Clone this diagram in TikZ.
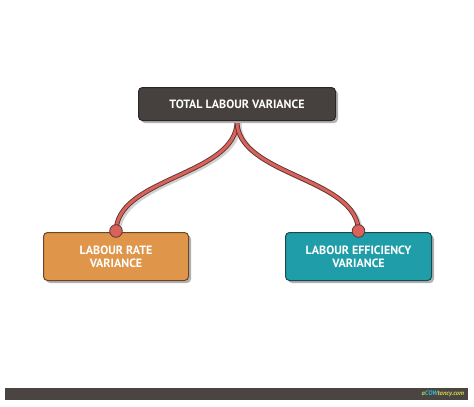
\documentclass[tikz,border=0pt]{standalone}
\usepackage{fontspec}
\setmainfont{PT Sans}
\usetikzlibrary{shadows,backgrounds}

\definecolor{TopDark}{HTML}{46413F}
\definecolor{TopEdge}{HTML}{2B2725}
\definecolor{RateOrange}{HTML}{E0964A}
\definecolor{RateEdge}{HTML}{6A4528}
\definecolor{EffTeal}{HTML}{1F9DA8}
\definecolor{EffEdge}{HTML}{1A4A4F}
\definecolor{PinRed}{HTML}{D9625B}
\definecolor{PinEdge}{HTML}{5C3431}
\definecolor{BarGray}{HTML}{4A4542}
\definecolor{LogoLime}{HTML}{D2D44A}
\definecolor{LogoCyan}{HTML}{3DB8C8}

\begin{document}
\begin{tikzpicture}[x=1pt,y=-1pt,line join=round]
   \useasboundingbox (0,0) rectangle (474,407);
   \tikzstyle{box}=[rounded corners=4pt, line width=1pt, text=white, align=center,
      font=\bfseries\fontsize{12}{13}\selectfont,
      drop shadow={shadow xshift=2.5pt, shadow yshift=-2.5pt, fill=black!30, opacity=1}]
   \node[box, fill=TopDark, draw=TopEdge, minimum width=197pt, minimum height=33pt] (total) at (237,104) {TOTAL LABOUR VARIANCE};
   \node[box, fill=RateOrange, draw=RateEdge, minimum width=145pt, minimum height=48pt] (rate) at (116,256.5) {LABOUR RATE\\VARIANCE};
   \node[box, fill=EffTeal, draw=EffEdge, minimum width=146pt, minimum height=48pt] (efficiency) at (358.5,256.5) {LABOUR EFFICIENCY\\VARIANCE};
   \begin{scope}[on background layer]
   \foreach \child in {rate,efficiency} {
       \draw[line width=4pt, black!18, transform canvas={xshift=2.5pt,yshift=-2pt}] (total.south) .. controls +(0,55) and +(0,-55) .. (\child.north);
       \draw[line width=4.8pt, PinEdge] (total.south) .. controls +(0,55) and +(0,-55) .. (\child.north);
       \draw[line width=3pt, PinRed] (total.south) .. controls +(0,55) and +(0,-55) .. (\child.north);
   }
   \end{scope}
   \foreach \child in {rate,efficiency}
       \filldraw[fill=PinRed, draw=PinEdge, line width=0.8pt] ([yshift=1pt]\child.north) circle (6.3pt);
   \node[fill=BarGray, minimum width=463pt, minimum height=12pt, inner sep=0pt] (bar) at (236.5,394) {};
   \node[anchor=east, inner sep=0pt, font=\bfseries\itshape\fontsize{6.5}{7}\selectfont] (logo) at ([xshift=-4pt]bar.east)
      {\textcolor{LogoLime}{a}\textcolor{LogoCyan}{COW}\textcolor{LogoLime}{tancy.com}};
\end{tikzpicture}
\end{document}
